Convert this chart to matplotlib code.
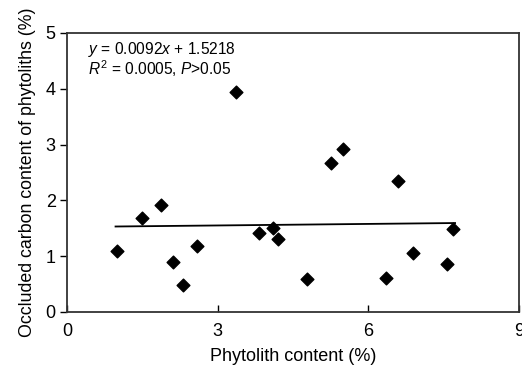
import matplotlib.pyplot as plt

plt.rcParams['font.family'] = ['Liberation Sans', 'DejaVu Sans']
plt.rcParams['mathtext.fontset'] = 'custom'
plt.rcParams['mathtext.it'] = 'Liberation Sans:italic'
plt.rcParams['mathtext.rm'] = 'Liberation Sans'

phytolith = [1.0, 1.49, 1.87, 2.11, 2.31, 2.59, 3.37, 3.82, 4.10, 4.20,
             4.78, 5.26, 5.50, 6.35, 6.59, 6.89, 7.57, 7.69]
occluded_c = [1.09, 1.68, 1.92, 0.90, 0.48, 1.18, 3.95, 1.41, 1.50, 1.31,
              0.59, 2.67, 2.92, 0.61, 2.35, 1.06, 0.86, 1.49]
slope, intercept = 0.0092, 1.5218
fit_x = [0.97, 7.73]

fig = plt.figure(figsize=(5.22, 3.7), dpi=100)
ax = fig.add_axes([0.128, 0.157, 0.866, 0.754])

ax.scatter(phytolith, occluded_c, marker='D', s=42, color='black', zorder=3)
fit_y = [slope * x + intercept for x in fit_x]
ax.plot(fit_x, fit_y, color='black', lw=1.3)

ax.set_xlim(0, 9)
ax.set_ylim(0, 5)
ax.set_xticks([0, 3, 6, 9])
ax.set_yticks([0, 1, 2, 3, 4, 5])
ax.tick_params(axis='x', direction='in', length=5, width=1, labelsize=13, pad=8)
ax.tick_params(axis='y', direction='out', length=5, width=1, labelsize=13, pad=3)
for s in ax.spines.values():
    s.set_linewidth(1.3)
    s.set_color('#333333')

ax.text(0.046, 0.975, r'$\it{y}$ = 0.0092$\it{x}$ + 1.5218', transform=ax.transAxes,
        fontsize=11.2, va='top')
ax.text(0.046, 0.91, r'$\it{R}^{2}$ = 0.0005, $\it{P}$>0.05', transform=ax.transAxes,
        fontsize=11.2, va='top')

ax.set_xlabel('Phytolith content (%)', fontsize=13, labelpad=6)
ax.set_ylabel('Occluded carbon content of phytoliths (%)', fontsize=12.8, labelpad=7)

fig.savefig('out.png', dpi=100)
